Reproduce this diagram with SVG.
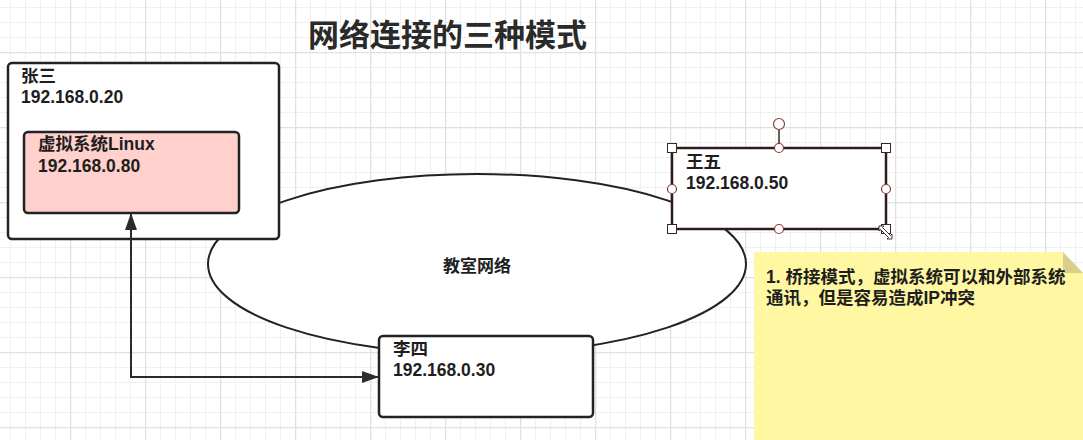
<svg xmlns="http://www.w3.org/2000/svg" width="1083" height="440" viewBox="0 0 1083 440">
<style>
.t{font-family:"Liberation Sans","Noto Sans CJK SC",sans-serif;font-weight:bold;font-size:17.5px;fill:#1e1e1e}
.box{fill:#fff;stroke:#222;stroke-width:2.5}
.conn{fill:none;stroke:#2b2b2b;stroke-width:2}
.h{fill:#fff;stroke:#3a2525;stroke-width:1}
.hc{fill:#fff;stroke:#8a3a3a;stroke-width:1.2}
</style>
<defs>
<pattern id="minor" width="15" height="15" patternUnits="userSpaceOnUse" x="10" y="7">
<path d="M0.5,0 V15 M0,0.5 H15" stroke="#f0f0f0" stroke-width="1" fill="none"/>
</pattern>
<pattern id="major" width="75" height="75" patternUnits="userSpaceOnUse" x="70" y="52">
<path d="M0.5,0 V75 M0,0.5 H75" stroke="#e0e0e0" stroke-width="1.5" fill="none"/>
</pattern>
<marker id="arr" viewBox="0 0 17 12" refX="17" refY="6" markerWidth="17" markerHeight="12" markerUnits="userSpaceOnUse" orient="auto-start-reverse">
<path d="M0,0 L17,6 L0,12 z" fill="#2b2b2b"/>
</marker>
</defs>
<rect width="1083" height="440" fill="#fff"/>
<rect width="1083" height="440" fill="url(#minor)"/>
<rect width="1083" height="440" fill="url(#major)"/>

<text class="t" x="308" y="46" style="font-size:31px;fill:#2a2a2a">网络连接的三种模式</text>

<g id="network">
<ellipse cx="477" cy="264" rx="269" ry="90" fill="#fff" stroke="#222" stroke-width="2"/>
<text class="t" x="477" y="272" text-anchor="middle" style="font-size:17px">教室网络</text>
</g>

<g id="zhangsan">
<rect class="box" x="8" y="63" width="271" height="176" rx="4"/>
<text class="t" x="21" y="82">张三</text>
<text class="t" x="21" y="103">192.168.0.20</text>
</g>

<g id="linux">
<rect x="24" y="132" width="215" height="81" rx="4" fill="#ffd0cc" stroke="#222" stroke-width="2.5"/>
<text class="t" x="38" y="150">虚拟系统Linux</text>
<text class="t" x="38" y="172">192.168.0.80</text>
</g>

<g id="lisi">
<rect class="box" x="379" y="336" width="214" height="81" rx="4"/>
<text class="t" x="393" y="355">李四</text>
<text class="t" x="393" y="376">192.168.0.30</text>
</g>

<g id="wangwu">
<rect x="672" y="148" width="214" height="81" fill="#fff" stroke="#2e1c1c" stroke-width="2.5"/>
<text class="t" x="686" y="168">王五</text>
<text class="t" x="686" y="189">192.168.0.50</text>
<line x1="779" y1="130" x2="779" y2="148" stroke="#3a2525" stroke-width="1.5"/>
<circle class="hc" cx="779" cy="124" r="5.5"/>
<circle class="hc" cx="779" cy="148" r="4.5"/>
<circle class="hc" cx="779" cy="229" r="4.5"/>
<circle class="hc" cx="672" cy="189" r="4.5"/>
<circle class="hc" cx="886" cy="189" r="4.5"/>
<rect class="h" x="667.5" y="143.5" width="9" height="9"/>
<rect class="h" x="881.5" y="143.5" width="9" height="9"/>
<rect class="h" x="667.5" y="224.5" width="9" height="9"/>
<rect class="h" x="881.5" y="224.5" width="9" height="9"/>
<path d="M879,226 L884,226 L882.5,227.5 L890.5,235.5 L892,234 L892,239 L887,239 L888.5,237.5 L880.5,229.5 L879,231 z" fill="#fff" stroke="#222" stroke-width="0.9"/>
</g>

<g id="connectors">
<path class="conn" d="M379,377 H131 V213" marker-start="url(#arr)" marker-end="url(#arr)"/>
</g>

<g id="note">
<path d="M754,252 H1063 L1083,273 V440 H754 z" fill="#fff7a1"/>
<path d="M1063,252 L1083,273 H1063 z" fill="#d8d08a"/>
<text class="t" x="766" y="283">1. 桥接模式，虚拟系统可以和外部系统</text>
<text class="t" x="766" y="304">通讯，但是容易造成IP冲突</text>
</g>
</svg>
